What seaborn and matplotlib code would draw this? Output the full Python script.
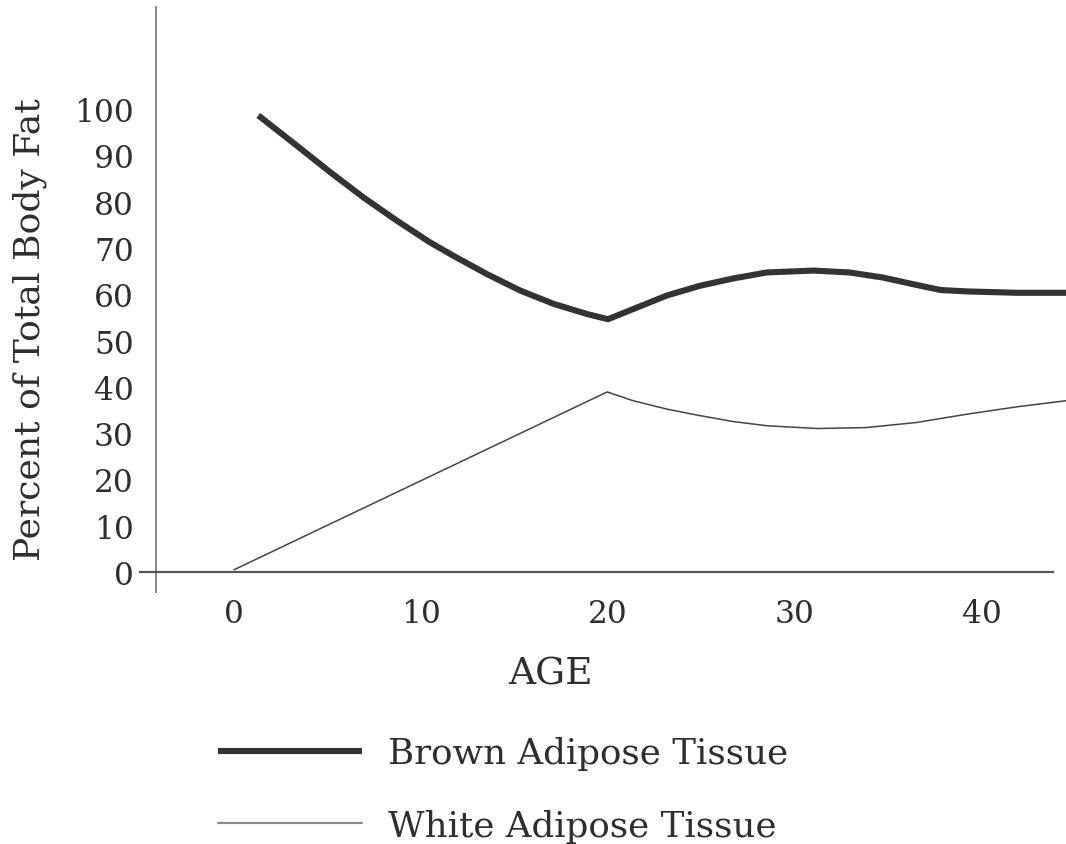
import numpy as np
import pandas as pd
import matplotlib.pyplot as plt
from matplotlib.lines import Line2D
import seaborn as sns

sns.set_style("white")
plt.rcParams['font.family'] = 'DejaVu Serif'

# values
brown_age = [1.3, 3.35, 5.13, 6.92, 8.7, 10.48, 11.73, 13.5, 15.3, 17.1, 18.9, 20.0,
             23.14, 24.9, 26.7, 28.5, 31.0, 32.9, 34.7, 36.5, 37.8, 39.2, 41.9, 44.5]
brown_pct = [98.6, 92.1, 86.4, 80.9, 75.9, 71.2, 68.3, 64.4, 60.8, 57.9, 55.7, 54.6,
             59.7, 61.8, 63.4, 64.7, 65.1, 64.7, 63.6, 62.0, 60.9, 60.6, 60.3, 60.3]
white_age = [0.0, 19.96, 21.35, 23.14, 24.9, 26.7, 28.5, 31.2, 33.8, 36.5, 39.2, 41.9, 44.5]
white_pct = [0.5, 38.9, 37.0, 35.2, 33.8, 32.5, 31.6, 31.0, 31.2, 32.3, 34.1, 35.7, 37.0]

x_ticks = [0, 10, 20, 30, 40]
y_ticks = [0, 10, 20, 30, 40, 50, 60, 70, 80, 90, 100]

brown_df = pd.DataFrame({"age": brown_age, "pct": brown_pct})
white_df = pd.DataFrame({"age": white_age, "pct": white_pct})

text_col = "#2e2e2e"
tick_fs = 22.5
label_fs = 26

fig = plt.figure(figsize=(10.66, 8.45), dpi=100)
ax = fig.add_axes([0.1318, 0.2982, 0.856, 0.6923])

sns.lineplot(data=brown_df, x="age", y="pct", ax=ax, color="#333333",
             linewidth=4.4, estimator=None, sort=False, clip_on=False,
             solid_capstyle="butt", solid_joinstyle="round")
sns.lineplot(data=white_df, x="age", y="pct", ax=ax, color="#444444",
             linewidth=1.1, estimator=None, sort=False, clip_on=False)

ax.set_xlim(-5, 43.8)
ax.set_ylim(-4.3, 122)

for side in ["top", "right"]:
    ax.spines[side].set_visible(False)
ax.spines["left"].set_position(("data", -4.17))
ax.spines["bottom"].set_position(("data", 0))
ax.spines["left"].set_color("#808080")
ax.spines["left"].set_linewidth(1.3)
ax.spines["bottom"].set_color("#555555")
ax.spines["bottom"].set_linewidth(1.6)

ax.set_xticks(x_ticks)
ax.set_yticks(y_ticks)
ax.tick_params(axis="x", direction="out", length=8.5, width=1.2, color="#555555",
               labelsize=tick_fs, labelcolor=text_col, pad=10)
ax.tick_params(axis="y", length=0, labelsize=tick_fs, labelcolor=text_col, pad=16)

ax.set_xlabel("AGE", fontsize=27, color=text_col)
ax.xaxis.label.set_va("center")
ax.xaxis.set_label_coords(0.449, -0.140)
ax.set_ylabel("Percent of Total Body Fat", fontsize=label_fs, color=text_col)
ax.yaxis.label.set_va("center")
ax.yaxis.set_label_coords(-0.121, 0.4497)

handles = [
    Line2D([], [], color="#333333", linewidth=4.4, solid_capstyle="butt"),
    Line2D([], [], color="#888888", linewidth=1.5),
]
fig.legend(handles, ["Brown Adipose Tissue", "White Adipose Tissue"],
           loc="center left", bbox_to_anchor=(0.2045, 0.0645), frameon=False,
           fontsize=25.7, handlelength=4.03, handletextpad=0.73,
           labelspacing=1.07, borderpad=0, borderaxespad=0, labelcolor=text_col)

fig.savefig("out.png", dpi=100)
